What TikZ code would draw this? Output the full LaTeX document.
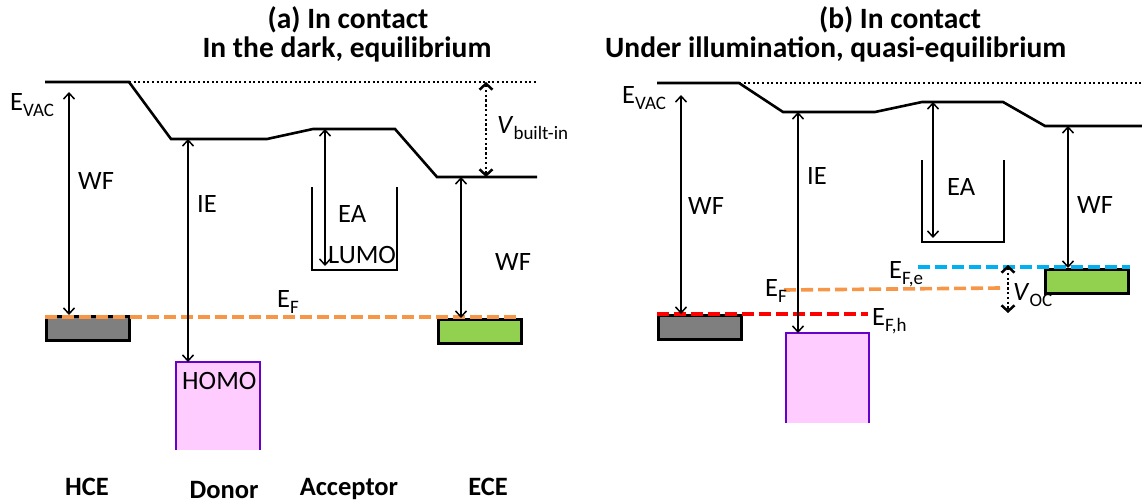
\documentclass[tikz,border=0pt]{standalone}
\usepackage{fontspec}
\setmainfont{Carlito}
\usetikzlibrary{arrows.meta,positioning}

\definecolor{efOrange}{HTML}{F79646}
\definecolor{efRed}{HTML}{FF0000}
\definecolor{efBlue}{HTML}{00B0F0}
\definecolor{eceGreen}{HTML}{92D050}
\definecolor{hceGray}{HTML}{7F7F7F}
\definecolor{homoPink}{HTML}{FFCCFF}
\definecolor{homoEdge}{HTML}{6600CC}

\newcommand{\lsub}[1]{\raisebox{-6pt}{\fontsize{19}{19}\selectfont #1}}

\begin{document}
\begin{tikzpicture}[x=1pt,y=-1pt,
  font=\fontsize{26.5}{30}\selectfont,
  level/.style={line width=2.6pt,line join=miter},
  vac/.style={line width=1.9pt,dash pattern=on 2pt off 2.6pt},
  elec/.style={draw=black,line width=2.6pt,fill=#1,minimum width=83pt,minimum height=24pt,inner sep=0pt,anchor=north west},
  gap/.style={line width=1.5pt,{Straight Barb[length=6pt,width=11pt]}-{Straight Barb[length=6pt,width=11pt]}},
  volt/.style={line width=2.5pt,dash pattern=on 2.5pt off 2.3pt,{Straight Barb[length=6pt,width=13pt]}-{Straight Barb[length=6pt,width=13pt]}},
  fermi/.style={line width=3.6pt,dash pattern=on 12pt off 5pt,draw=#1},
  lbl/.style={anchor=base west,inner sep=0pt},
  ttl/.style={anchor=base,inner sep=0pt,font=\fontsize{29.5}{33}\selectfont\bfseries},
  layer/.style={anchor=base,inner sep=0pt,font=\fontsize{26.5}{30}\selectfont\bfseries}
]
\useasboundingbox (0,0) rectangle (1142,503);

% ---------- titles
\node[ttl] (ttlA1) at (348,29) {(a) In contact};
\node[ttl] (ttlA2) at (347,57) {In the dark, equilibrium};
\node[ttl] (ttlB1) at (900,29) {(b) In contact};
\node[ttl,anchor=base west] (ttlB2) at (605,57) {Under illumination, quasi-equilibrium};

% ---------- (a) in the dark
\draw[level] (45,82) -- (129,82) -- (171,139) -- (267,139) -- (313,129) -- (395,129) -- (437,177) -- (537,177);
\draw[vac] (129,82) -- (537,82);

\node[elec=hceGray] (hceA) at (45,315) {};
\node[elec=eceGreen] (eceA) at (437,318) {};
\fill[homoPink] (176,362) rectangle (260,450);
\draw[homoEdge,line width=2.6pt] (176,450) |- (260,362) -- (260,450);
\draw[line width=2.6pt] (312,187) |- (397,270) -- (397,187);
\coordinate (homoA) at (176,362);
\coordinate (lumoA) at (312,266);

\draw[fermi=efOrange] (45,317) -- (520,317);

\coordinate (wfAtop) at (69,92);
\coordinate (ieAtop) at (188,139);
\coordinate (eaAtop) at (325,129);
\coordinate (wfBtop) at (461,177);
\coordinate (vbiTop) at (486,82);
\coordinate (vbiBot) at (486,177);
\draw[gap] (wfAtop) -- (wfAtop |- hceA.north);
\draw[gap] (ieAtop) -- (ieAtop |- homoA);
\draw[gap] (eaAtop) -- (eaAtop |- lumoA);
\draw[gap] (wfBtop) -- (wfBtop |- eceA.north);
\draw[volt] (vbiTop) -- (vbiBot);

\node[lbl] (evacA) at (10,110) {E\lsub{VAC}};
\node[lbl] (wfAl) at (78,189) {WF};
\node[lbl] (ieA) at (197,212) {IE};
\node[lbl] (eaA) at (338,222) {EA};
\node[lbl] (lumoAl) at (328,263) {LUMO};
\node[lbl] (wfAr) at (495,270) {WF};
\node[lbl] (vbiA) at (497,133) {\textit{V}\lsub{built-in}};
\node[lbl] (efA) at (277,307) {E\lsub{F}};
\node[lbl] (homoAl) at (182,389) {HOMO};

\node[layer] (hceL) at (87,495) {HCE};
\node[layer] (donL) at (224,498) {Donor};
\node[layer] (accL) at (349,495) {Acceptor};
\node[layer] (eceL) at (488,495) {ECE};

% ---------- (b) under illumination
\draw[level] (657,83) -- (739,83) -- (783,112) -- (875,112) -- (922,102) -- (1003,102) -- (1045,126) -- (1142,126);
\draw[vac] (739,83) -- (1142,83);

\node[elec=hceGray] (hceB) at (657,314) {};
\node[elec=eceGreen] (eceB) at (1044,268) {};
\fill[homoPink] (786,333) rectangle (869,423);
\draw[homoEdge,line width=2.6pt] (786,423) |- (869,333) -- (869,423);
\draw[line width=2.6pt] (922,160) |- (1004,242) -- (1004,160);
\coordinate (homoB) at (786,333);
\coordinate (lumoB) at (922,238);

\draw[fermi=efRed] (657,314) -- (868,314);
\draw[fermi=efOrange] (784,290) -- (1000,288);
\draw[fermi=efBlue] (918,267) -- (1130,267);

\coordinate (wfCtop) at (681,95);
\coordinate (ieBtop) at (798,112);
\coordinate (eaBtop) at (933,102);
\coordinate (wfDtop) at (1068,126);
\coordinate (vocTop) at (1008,265);
\coordinate (vocBot) at (1008,313);
\draw[gap] (wfCtop) -- (wfCtop |- hceB.north);
\draw[gap] (ieBtop) -- (ieBtop |- homoB);
\draw[gap] (eaBtop) -- (eaBtop |- lumoB);
\draw[gap] (wfDtop) -- (wfDtop |- eceB.north);
\draw[volt] (vocTop) -- (vocBot);

\node[lbl] (evacB) at (622,103) {E\lsub{VAC}};
\node[lbl] (wfBl) at (688,214) {WF};
\node[lbl] (ieB) at (807,184) {IE};
\node[lbl] (eaB) at (947,195) {EA};
\node[lbl] (wfBr) at (1077,213) {WF};
\node[lbl] (efeB) at (889,278) {E\lsub{F,e}};
\node[lbl] (efB) at (765,296) {E\lsub{F}};
\node[lbl] (efhB) at (872,325) {E\lsub{F,h}};
\node[lbl] (vocB) at (1013,300) {\textit{V}\lsub{OC}};
\end{tikzpicture}
\end{document}
